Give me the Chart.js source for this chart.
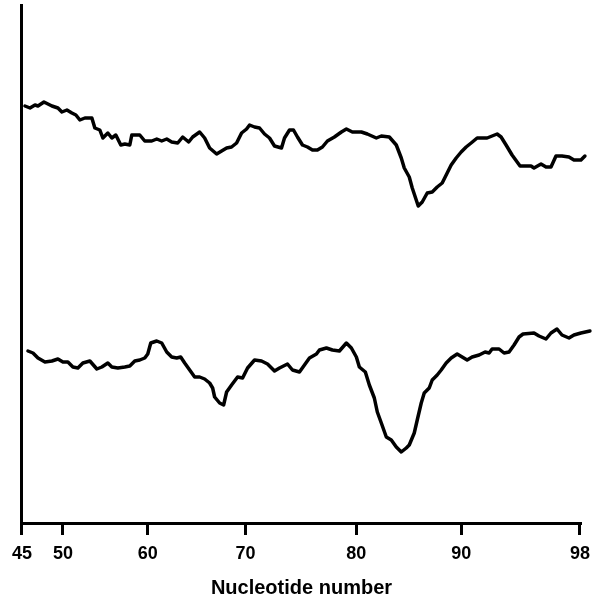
<!DOCTYPE html>
<html>
<head>
<meta charset="utf-8">
<script src="https://cdn.jsdelivr.net/npm/chart.js@4.4.1/dist/chart.umd.min.js"></script>
<style>
  html, body { margin: 0; padding: 0; background: #fff; }
  #wrap { width: 598px; height: 600px; }
</style>
</head>
<body>
<div id="wrap"><canvas id="c" width="598" height="600"></canvas></div>
<script>
// Scan position along the gel (arbitrary units) and relative intensity
const tickLabels = [45, 50, 60, 70, 80, 90, 98];
const tickScanPos = [0, 41, 126, 224, 335, 440, 559];

const topX = [3, 8, 13, 16, 22, 26, 30, 36, 40, 45, 50, 54, 58, 63, 70, 73, 78, 81, 86, 90, 94, 99, 103, 108, 110, 118, 123, 130, 135, 140, 145, 150, 156, 161, 167, 171, 178, 183, 188, 195, 200, 205, 210, 215, 220, 225, 228, 233, 238, 243, 248, 253, 260, 263, 268, 272, 276, 281, 286, 291, 296, 301, 306, 313, 320, 325, 331, 340, 346, 355, 360, 368, 375, 380, 383, 388, 391, 395, 397, 401, 406, 411, 416, 421, 426, 430, 435, 440, 445, 450, 456, 461, 466, 471, 476, 480, 485, 491, 499, 505, 510, 513, 520, 525, 530, 535, 541, 548, 553, 560, 564];
const topY = [417, 415, 418, 417, 421, 419, 417, 415, 411, 413, 410, 408, 403, 405, 405, 395, 393, 385, 390, 385, 388, 378, 379, 378, 388, 388, 382, 382, 384, 382, 384, 381, 380, 386, 381, 386, 391, 385, 375, 369, 372, 375, 376, 380, 390, 394, 398, 396, 395, 389, 385, 377, 375, 385, 393, 393, 386, 378, 376, 373, 373, 376, 382, 386, 391, 394, 391, 391, 389, 385, 387, 386, 378, 365, 355, 346, 335, 323, 317, 321, 330, 331, 336, 340, 350, 358, 365, 371, 376, 380, 385, 385, 385, 387, 389, 386, 378, 368, 357, 357, 357, 355, 359, 356, 356, 367, 367, 366, 363, 363, 367];

const bottomX = [6, 11, 16, 23, 30, 36, 41, 46, 51, 56, 61, 68, 75, 80, 86, 90, 96, 103, 108, 113, 118, 123, 126, 129, 135, 140, 145, 150, 155, 159, 163, 168, 173, 178, 183, 188, 191, 193, 198, 202, 205, 210, 216, 221, 226, 233, 240, 246, 253, 258, 266, 271, 278, 283, 288, 295, 298, 305, 311, 318, 325, 330, 335, 338, 344, 348, 353, 356, 360, 365, 370, 375, 380, 385, 388, 393, 396, 400, 403, 408, 411, 416, 420, 425, 430, 436, 441, 446, 451, 458, 464, 468, 471, 478, 483, 488, 493, 498, 502, 513, 518, 525, 530, 536, 541, 548, 553, 560, 569];
const bottomY = [172, 170, 165, 161, 162, 164, 161, 161, 156, 155, 160, 162, 154, 156, 160, 156, 155, 156, 157, 162, 163, 165, 169, 180, 182, 180, 171, 166, 165, 166, 160, 153, 146, 146, 144, 140, 135, 126, 120, 118, 131, 138, 146, 145, 155, 163, 162, 159, 152, 155, 159, 153, 151, 158, 165, 169, 173, 175, 173, 172, 180, 175, 166, 156, 151, 138, 125, 111, 100, 86, 83, 76, 71, 75, 78, 90, 103, 120, 130, 135, 143, 148, 153, 160, 165, 169, 166, 163, 166, 168, 171, 170, 174, 174, 170, 171, 178, 186, 189, 190, 187, 184, 190, 194, 188, 185, 188, 190, 192];

const toPts = (xs, ys) => xs.map((x, i) => ({ x: x, y: ys[i] }));

const FONT = "'Liberation Sans', Arial, Helvetica, sans-serif";

new Chart(document.getElementById('c'), {
  type: 'line',
  data: {
    datasets: [
      { data: toPts(topX, topY), borderColor: '#000', borderWidth: 3.5, pointRadius: 0, tension: 0, clip: false, borderJoinStyle: 'round', borderCapStyle: 'round' },
      { data: toPts(bottomX, bottomY), borderColor: '#000', borderWidth: 3.5, pointRadius: 0, tension: 0, clip: false, borderJoinStyle: 'round', borderCapStyle: 'round' }
    ]
  },
  options: {
    responsive: false,
    devicePixelRatio: 1,
    animation: false,
    events: [],
    layout: { padding: { left: 21, top: 5, right: 15, bottom: 0 } },
    plugins: { legend: { display: false }, tooltip: { enabled: false } },
    scales: {
      x: {
        type: 'linear',
        min: -1,
        max: 561,
        afterFit: s => { s.height = 77; },
        afterBuildTicks: axis => { axis.ticks = tickScanPos.map(v => ({ value: v })); },
        border: { display: true, color: '#000', width: 3 },
        grid: { display: true, drawOnChartArea: false, drawTicks: true, tickLength: 12, tickWidth: 3, tickColor: '#000', color: '#000' },
        ticks: {
          autoSkip: false,
          maxRotation: 0,
          padding: 8,
          color: '#000',
          font: { family: FONT, size: 18, weight: 'bold' },
          callback: v => { const i = tickScanPos.indexOf(v); return i >= 0 ? String(tickLabels[i]) : ''; }
        },
        title: {
          display: true,
          text: 'Nucleotide number',
          color: '#000',
          font: { family: FONT, size: 20, weight: 'bold' },
          padding: { top: 0, bottom: 0 }
        }
      },
      y: {
        type: 'linear',
        min: 0,
        max: 518,
        afterFit: s => { s.width = 0; },
        border: { display: true, color: '#000', width: 3 },
        grid: { display: false },
        ticks: { display: false }
      }
    }
  }
});
</script>
</body>
</html>
